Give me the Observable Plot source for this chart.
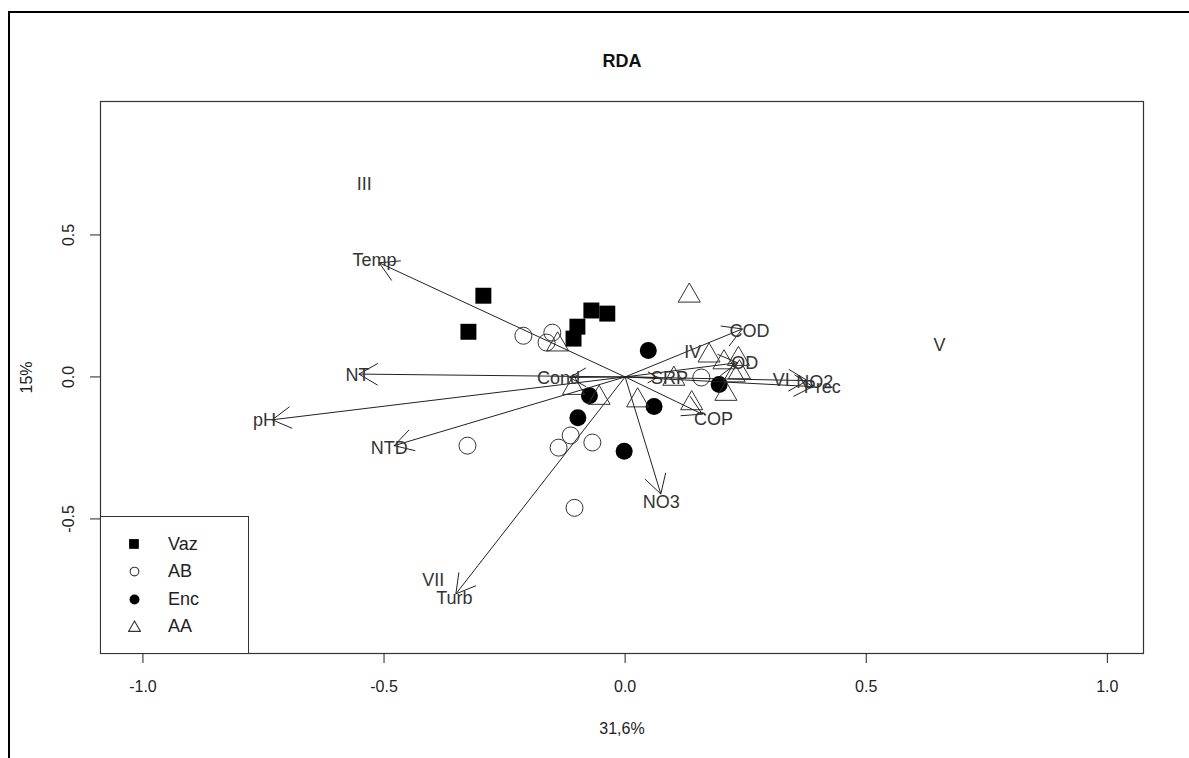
<!DOCTYPE html>
<html><head><meta charset="utf-8">
<script src="https://cdn.jsdelivr.net/npm/d3@7"></script>
<script src="https://cdn.jsdelivr.net/npm/@observablehq/plot@0.6"></script>
<style>
body{margin:0;background:#fff;font-family:"Liberation Sans",Arial,sans-serif;}
#wrap{position:relative;width:1189px;height:758px;overflow:hidden;background:#fff;}
#frame{position:absolute;left:8px;top:11px;width:1300px;height:900px;border-left:2px solid #000;border-top:2px solid #000;pointer-events:none;z-index:5;}
#title{position:absolute;left:0;top:50px;width:1244px;text-align:center;font-weight:bold;font-size:18px;color:#111;line-height:22px;z-index:2;}
#chart{position:absolute;left:0;top:80px;}
#legend{position:absolute;left:100px;top:516px;width:147px;height:136px;border:1px solid #333;background:#fff;font-size:18px;color:#222;z-index:3;}
.row{position:absolute;left:0;height:24px;line-height:24px;}
.row svg{position:absolute;left:27px;top:6px;}
.row span{position:absolute;left:67px;}
</style></head>
<body>
<div id="wrap">
  <div id="frame"></div>
  <div id="title">RDA</div>
  <div id="chart"></div>
  <div id="legend"></div>
</div>
<script>
// Site scores by group
const vazX = [-0.325, -0.294, -0.107, -0.099, -0.070, -0.037];
const vazY = [0.159, 0.286, 0.135, 0.177, 0.234, 0.223];
const abX = [-0.211, -0.151, -0.163, -0.327, -0.138, -0.113, -0.068, -0.105, 0.158];
const abY = [0.145, 0.156, 0.121, -0.242, -0.249, -0.206, -0.231, -0.461, -0.002];
const encX = [0.048, -0.074, -0.098, -0.002, 0.060, 0.195];
const encY = [0.093, -0.066, -0.144, -0.262, -0.104, -0.027];
const aaX = [0.133, -0.140, -0.107, -0.054, 0.026, 0.101, 0.138, 0.174, 0.205, 0.235, 0.226, 0.209, 0.237];
const aaY = [0.286, 0.114, -0.039, -0.074, -0.083, -0.007, -0.093, 0.075, 0.051, 0.063, 0.005, -0.060, 0.016];

// Environmental variables (biplot arrows)
const envNames = ["Temp", "NT", "pH", "NTD", "Turb", "NO3", "COP", "COD", "OD", "SRP", "Cond", "NO2", "Prec"];
const envX = [-0.510, -0.552, -0.732, -0.479, -0.351, 0.074, 0.160, 0.243, 0.233, 0.067, -0.115, 0.378, 0.389];
const envY = [0.402, 0.010, -0.151, -0.242, -0.764, -0.412, -0.131, 0.169, 0.050, -0.002, -0.002, -0.013, -0.034];
const envLabX = [-0.520, -0.555, -0.748, -0.489, -0.354, 0.075, 0.183, 0.258, 0.248, 0.092, -0.138, 0.393, 0.409];
const envLabY = [0.410, 0.005, -0.154, -0.252, -0.781, -0.443, -0.150, 0.160, 0.050, -0.006, -0.006, -0.017, -0.038];

// Centroid labels
const cenNames = ["III", "IV", "V", "VI", "VII"];
const cenX = [-0.541, 0.140, 0.652, 0.324, -0.398];
const cenY = [0.677, 0.086, 0.110, -0.013, -0.717];

// Axes
const xTicks = [-1.0, -0.5, 0.0, 0.5, 1.0];
const yTicks = [-0.5, 0.0, 0.5];
const xLabel = "31,6%";
const yLabel = "15%";
const groups = ["Vaz", "AB", "Enc", "AA"];

const zip = (xs, ys) => xs.map((x, i) => ({x, y: ys[i]}));
const vaz = zip(vazX, vazY), ab = zip(abX, abY), enc = zip(encX, encY), aa = zip(aaX, aaY);
const env = envNames.map((n, i) => ({name: n, x: envX[i], y: envY[i], lx: envLabX[i], ly: envLabY[i]}));
const cen = cenNames.map((n, i) => ({name: n, x: cenX[i], y: cenY[i]}));

const ink = "#222";
const chart = Plot.plot({
  width: 1189,
  height: 678,
  marginTop: 21,
  marginBottom: 105,
  marginLeft: 100,
  marginRight: 46,
  style: {fontFamily: '"Liberation Sans", Arial, sans-serif', fontSize: "16px", color: ink, background: "#fff"},
  x: {domain: [-1.088, 1.075], ticks: xTicks, tickFormat: d => d.toFixed(1), label: null},
  y: {domain: [-0.974, 0.970], ticks: yTicks, tickFormat: d => d.toFixed(1), label: null},
  marks: [
    Plot.frame({stroke: "#333", strokeWidth: 1.2}),
    Plot.dot(vaz, {x: "x", y: "y", symbol: "square", r: 9, fill: "#000", stroke: "none"}),
    Plot.dot(ab, {x: "x", y: "y", symbol: "circle", r: 8.5, fill: "none", stroke: "#333", strokeWidth: 1}),
    Plot.dot(enc, {x: "x", y: "y", symbol: "circle", r: 8.5, fill: "#000", stroke: "none"}),
    Plot.dot(aa, {x: "x", y: "y", symbol: "triangle", r: 8.2, fill: "none", stroke: "#333", strokeWidth: 1}),
    Plot.arrow(env, {x1: () => 0, y1: () => 0, x2: "x", y2: "y", headLength: 32, headAngle: 60, stroke: ink, strokeWidth: 1}),
    Plot.text(env, {x: "lx", y: "ly", text: "name", fontSize: 18, fill: "#333"}),
    Plot.text(cen, {x: "x", y: "y", text: "name", fontSize: 18, fill: "#333"}),
    Plot.axisX({ticks: xTicks, tickFormat: d => d.toFixed(1), tickSize: 10, tickPadding: 17, fontSize: 16, label: xLabel, labelAnchor: "center", labelArrow: "none", labelOffset: 80}),
    Plot.axisY({ticks: yTicks, tickFormat: d => d.toFixed(1), tickSize: 10, tickPadding: 17, tickRotate: -90, fontSize: 16, label: yLabel, labelAnchor: "center", labelArrow: "none", labelOffset: 80})
  ]
});
document.getElementById("chart").appendChild(chart);

// Legend
const legend = document.getElementById("legend");
const sym = {
  Vaz: '<rect x="1" y="1" width="9" height="9" fill="#000"/>',
  AB: '<circle cx="6" cy="6" r="4" fill="none" stroke="#333"/>',
  Enc: '<circle cx="6" cy="6" r="4.6" fill="#000"/>',
  AA: '<path d="M6 1 L11.5 10.5 L0.5 10.5 Z" fill="none" stroke="#333"/>'
};
groups.forEach((g, i) => {
  const row = document.createElement("div");
  row.className = "row";
  row.style.top = (15 + i * 27.3) + "px";
  row.innerHTML = `<svg width="13" height="13" viewBox="0 0 12 12">${sym[g]}</svg><span>${g}</span>`;
  legend.appendChild(row);
});
</script>
</body></html>
